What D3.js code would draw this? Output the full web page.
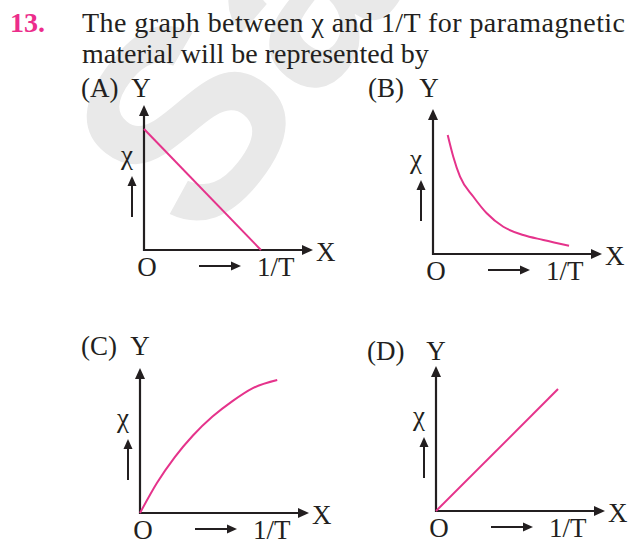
<!DOCTYPE html>
<html>
<head>
<meta charset="utf-8">
<script src="https://cdn.jsdelivr.net/npm/d3@7"></script>
<style>
  html, body { margin: 0; padding: 0; background: #fff; }
  svg { display: block; }
</style>
</head>
<body>
<svg id="chart" width="631" height="539"></svg>
<script>
// ---- data ----
const questionNumber = "13.";
const questionLines = ["The graph between \u03c7 and 1/T for paramagnetic", "material will be represented by"];
const panelLabels = ["(A)", "(B)", "(C)", "(D)"];
const yAxisLabel = "Y";
const xAxisLabel = "X";
const originLabel = "O";
const xQuantity = "1/T";
const yQuantity = "\u03c7";
// curve data in normalised units (x: 0..1 along X axis, y: 0..1 along Y axis)
const curveA_x = [0, 0.692];
const curveA_y = [0.834, 0];
const curveB_x = [0.087, 0.120, 0.160, 0.239, 0.318, 0.416, 0.534, 0.653, 0.805];
const curveB_y = [0.821, 0.671, 0.533, 0.395, 0.281, 0.188, 0.131, 0.097, 0.057];
const curveC_x = [0, 0.100, 0.206, 0.312, 0.429, 0.547, 0.665, 0.812];
const curveC_y = [0, 0.207, 0.386, 0.533, 0.665, 0.772, 0.860, 0.917];
const curveD_x = [0, 0.722];
const curveD_y = [0, 0.841];

const pink = "#e5338b";
const ink = "#231f20";
const SERIF = "Liberation Serif";

const svg = d3.select("#chart");

function txt(x, y, s, size) {
  return svg.append("text").attr("x", x).attr("y", y)
    .style("font-family", SERIF).style("font-size", size + "px").style("fill", ink).text(s);
}

// watermark
svg.append("text")
  .attr("transform", "translate(203,250) rotate(-52)")
  .style("font-family", "Liberation Sans")
  .style("font-weight", "bold")
  .style("font-size", "270px")
  .style("fill", "#e9e9e9")
  .text("Sa");

// header
txt(10, 32, questionNumber, 28).style("font-weight", "bold").style("fill", "#ec2d8b");
txt(82, 32, questionLines[0], 28).attr("textLength", 543).attr("lengthAdjust", "spacing");
txt(82, 63, questionLines[1], 28);

const panels = [
  { label: panelLabels[0], ox: 144, oy: 250, lx: 81, ly: 97, yx: 141, xs: curveA_x, ys: curveA_y, curve: d3.curveLinear },
  { label: panelLabels[1], ox: 433, oy: 254, lx: 368, ly: 97, yx: 429, xs: curveB_x, ys: curveB_y, curve: d3.curveMonotoneX },
  { label: panelLabels[2], ox: 140, oy: 513, lx: 81, ly: 355, yx: 140, xs: curveC_x, ys: curveC_y, curve: d3.curveMonotoneX },
  { label: panelLabels[3], ox: 436, oy: 511, lx: 367, ly: 360, yx: 436, xs: curveD_x, ys: curveD_y, curve: d3.curveLinear }
];

function arrowHead(g, x, y, dir, len, half) {
  let pts;
  if (dir === "up") pts = [[x, y], [x - half, y + len], [x + half, y + len]];
  else pts = [[x, y], [x - len, y - half], [x - len, y + half]];
  g.append("path").attr("d", "M" + pts.map(p => p.join(",")).join("L") + "Z").attr("fill", ink);
}

panels.forEach(p => {
  const g = svg.append("g");
  const x = d3.scaleLinear().domain([0, 1]).range([p.ox, p.ox + 169]);
  const y = d3.scaleLinear().domain([0, 1]).range([p.oy, p.oy - 145]);

  // axes
  g.append("line").attr("x1", x(0)).attr("y1", y(0) + 1).attr("x2", x(0)).attr("y2", y(1) + 8)
    .attr("stroke", ink).attr("stroke-width", 2.2);
  arrowHead(g, x(0), y(1), "up", 11, 5);
  g.append("line").attr("x1", x(0) - 1).attr("y1", y(0)).attr("x2", x(1) - 8).attr("y2", y(0))
    .attr("stroke", ink).attr("stroke-width", 2.2);
  arrowHead(g, x(1), y(0), "right", 11, 5);

  // curve
  const pts = p.xs.map((v, i) => [v, p.ys[i]]);
  g.append("path").datum(pts)
    .attr("d", d3.line().x(d => x(d[0])).y(d => y(d[1])).curve(p.curve))
    .attr("fill", "none").attr("stroke", pink).attr("stroke-width", 2);

  // labels
  const t = (xx, yy, s) => g.append("text").attr("x", xx).attr("y", yy)
    .style("font-family", SERIF).style("font-size", "27px").style("fill", ink).text(s);
  t(p.lx, p.ly, p.label);
  t(p.yx, p.ly, yAxisLabel).attr("text-anchor", "middle");
  t(x(1) + 3, y(0) + 11, xAxisLabel);
  t(x(0) + 3, y(0) + 26, originLabel).attr("text-anchor", "middle");
  t(x(0) + 113, y(0) + 26, xQuantity);
  t(x(0) - 17, y(0) - 86, yQuantity).attr("text-anchor", "middle");

  // small arrows
  const ux = x(0) - 12;
  g.append("line").attr("x1", ux).attr("y1", y(0) - 33).attr("x2", ux).attr("y2", y(0) - 66)
    .attr("stroke", ink).attr("stroke-width", 2);
  arrowHead(g, ux, y(0) - 74, "up", 10, 4.5);
  const ry = y(0) + 16;
  g.append("line").attr("x1", x(0) + 55).attr("y1", ry).attr("x2", x(0) + 88).attr("y2", ry)
    .attr("stroke", ink).attr("stroke-width", 2);
  arrowHead(g, x(0) + 97, ry, "right", 10, 4.5);
});
</script>
</body>
</html>
